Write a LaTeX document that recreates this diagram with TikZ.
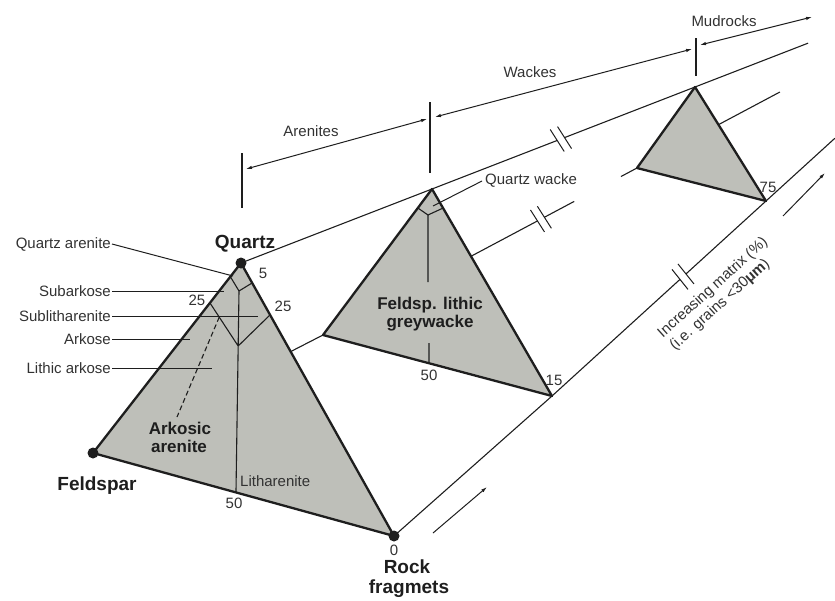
\documentclass[tikz,border=0pt]{standalone}
\usepackage{fontspec}
\setmainfont{Liberation Sans}
\usetikzlibrary{calc,arrows.meta}
\definecolor{trifill}{RGB}{190,191,185}
\definecolor{ink}{RGB}{30,30,30}
\definecolor{txt}{RGB}{50,50,50}
\begin{document}
\begin{tikzpicture}[x=1pt,y=-1pt,
  tri/.style={draw=ink,line width=2.3pt,fill=trifill,line join=round},
  inner/.style={draw=ink,line width=1.1pt},
  lead/.style={draw=ink,line width=1pt},
  recede/.style={draw=ink,line width=1.1pt},
  brk/.style={draw=ink,line width=1pt},
  tick/.style={draw=ink,line width=1.1pt},
  dim/.style={draw=ink,line width=1pt,{Latex[length=6pt,width=3.5pt]}-{Latex[length=6pt,width=3.5pt]}},
  onearrow/.style={draw=ink,line width=1pt,-{Latex[length=6pt,width=3.5pt]}},
  lbl/.style={font=\fontsize{15}{18}\selectfont,text=txt,inner sep=1pt},
  blbl/.style={font=\bfseries\fontsize{19}{21}\selectfont,text=ink,inner sep=0pt},
  ilbl/.style={font=\bfseries\fontsize{17}{19}\selectfont,text=ink,inner sep=0pt},
  vdot/.style={circle,fill=ink,inner sep=0pt,minimum size=11pt},
]
\useasboundingbox (0,0) rectangle (835,600);

% vertices
\coordinate (Q) at (241,263);
\coordinate (F) at (93,453);
\coordinate (R) at (394,536);
\coordinate (A2) at (432,189);
\coordinate (L2) at (323,335);
\coordinate (R2) at (552,396);
\coordinate (A3) at (695,87);
\coordinate (L3) at (637,168);
\coordinate (R3) at (766,201);

% receding lines with breaks
\coordinate (bA1) at ($(A2)!0.476!(A3)$);
\coordinate (bA2) at ($(A2)!0.504!(A3)$);
\coordinate (eA) at ($(A2)!1.43!(A3)$);
\draw[recede] (Q) -- (A2) -- (bA1) (bA2) -- (A3) -- (eA);
\draw[brk] ($(bA1)+(-7,-11)$) -- ($(bA1)+(7,11)$) ($(bA2)+(-7,-11)$) -- ($(bA2)+(7,11)$);

\coordinate (bB1) at ($(L2)!0.683!(L3)$);
\coordinate (bB2) at ($(L2)!0.705!(L3)$);
\coordinate (eB1) at ($(L2)!0.80!(L3)$);
\coordinate (sB) at ($(L2)!0.949!(L3)$);
\coordinate (eB) at ($(L2)!1.455!(L3)$);
\draw[recede] (F) -- (L2) -- (bB1) (bB2) -- (eB1) (sB) -- (L3) -- (eB);
\draw[brk] ($(bB1)+(-7,-11)$) -- ($(bB1)+(7,11)$) ($(bB2)+(-7,-11)$) -- ($(bB2)+(7,11)$);

\coordinate (bC1) at ($(R2)!0.598!(R3)$);
\coordinate (bC2) at ($(R2)!0.626!(R3)$);
\coordinate (eC) at ($(R2)!1.322!(R3)$);
\draw[recede] (R) -- (R2) -- (bC1) (bC2) -- (R3) -- (eC);
\draw[brk] ($(bC1)+(-8,-10)$) -- ($(bC1)+(8,10)$) ($(bC2)+(-8,-10)$) -- ($(bC2)+(8,10)$);

% triangles
\draw[tri] (Q) -- (F) -- (R) -- cycle;
\draw[tri] (A2) -- (L2) -- (R2) -- cycle;
\draw[tri] (A3) -- (L3) -- (R3) -- cycle;

% inner lines triangle 1
\coordinate (v1l) at ($(Q)!0.072!(F)$);
\coordinate (v1r) at ($(Q)!0.073!(R)$);
\coordinate (v1b) at (239,291);
\coordinate (b1) at ($(F)!0.475!(R)$);
\coordinate (V1l) at ($(Q)!0.21!(F)$);
\coordinate (V1r) at ($(Q)!0.19!(R)$);
\coordinate (V1b) at ($(v1b)!0.273!(b1)$);
\coordinate (ds) at ($(V1l)!0.33!(V1b)$);
\coordinate (de) at (177,417);
\draw[inner] (v1l) -- (v1b) -- (v1r) (v1b) -- (b1) (V1l) -- (V1b) -- (V1r);
\draw[inner,dash pattern=on 5pt off 3pt] (ds) -- (de);

% inner lines triangle 2
\coordinate (v2l) at ($(A2)!0.13!(L2)$);
\coordinate (v2r) at ($(A2)!0.092!(R2)$);
\coordinate (v2b) at (428,215);
\coordinate (v2e) at (428,282);
\coordinate (b2) at ($(L2)!0.463!(R2)$);
\coordinate (b2t) at (429,343);
\draw[inner] (v2l) -- (v2b) -- (v2r) (v2b) -- (v2e) (b2t) -- (b2);

% vertex dots
\node[vdot] (dQ) at (Q) {};
\node[vdot] (dF) at (F) {};
\node[vdot] (dR) at (R) {};

% left labels with leaders
\node[lbl,anchor=east] (qa) at (112,244) {Quartz arenite};
\node[lbl,anchor=east] (sa) at (112,291) {Subarkose};
\node[lbl,anchor=east] (sl) at (112,316) {Sublitharenite};
\node[lbl,anchor=east] (ak) at (112,339) {Arkose};
\node[lbl,anchor=east] (la) at (112,368) {Lithic arkose};
\coordinate (qat) at (233,276);
\coordinate (sat) at (224,291);
\coordinate (slt) at (258,316);
\coordinate (akt) at (190,339);
\coordinate (lat) at (212,368);
\draw[lead] (qa.east) -- (qat);
\draw[lead] (sa.east) -- (sat);
\draw[lead] (sl.east) -- (slt);
\draw[lead] (ak.east) -- (akt);
\draw[lead] (la.east) -- (lat);

% numbers
\node[lbl] (n5) at (263,273) {5};
\node[lbl] (n25l) at (197,300) {25};
\node[lbl] (n25r) at (283,306) {25};
\node[lbl] (n50a) at (234,503) {50};
\node[lbl] (n0) at (394,550) {0};
\node[lbl] (n50b) at (429,375) {50};
\node[lbl] (n15) at (554,380) {15};
\node[lbl] (n75) at (768,187) {75};

% corner labels
\node[blbl,anchor=base] (lq) at (245,248) {Quartz};
\node[blbl,anchor=base] (lf) at (97,490) {Feldspar};
\node[blbl,anchor=base] (lr1) at (407,573) {Rock};
\node[blbl,anchor=base] (lr2) at (409,593) {fragmets};

% field labels
\node[ilbl,anchor=base] (ak1) at (180,434) {Arkosic};
\node[ilbl,anchor=base] (ak2) at (179,452) {arenite};
\node[ilbl,anchor=base] (fg1) at (430,309) {Feldsp. lithic};
\node[ilbl,anchor=base] (fg2) at (430,327.5) {greywacke};
\node[lbl,anchor=base west,inner sep=0pt] (lit) at (240,486) {Litharenite};
\node[lbl,anchor=base west,inner sep=0pt] (qw) at (485,184) {Quartz wacke};
\coordinate (qws) at (433,206);
\coordinate (qwe) at (482,181);
\draw[lead] (qws) -- (qwe);

% dimension ticks and arrows
\coordinate (t1a) at (242,153); \coordinate (t1b) at (242,208);
\coordinate (t2a) at (430,102); \coordinate (t2b) at (430,173);
\coordinate (t3a) at (696,38);  \coordinate (t3b) at (696,76);
\draw[tick] (t1a) -- (t1b) (t2a) -- (t2b) (t3a) -- (t3b);
\coordinate (ar1) at (246,169); \coordinate (ar2) at (427,119);
\coordinate (wk1) at (435,117); \coordinate (wk2) at (692,49);
\coordinate (md1) at (700,45);  \coordinate (md2) at (812,17);
\draw[dim] (ar1) -- (ar2);
\draw[dim] (wk1) -- (wk2);
\draw[dim] (md1) -- (md2);
\node[lbl,anchor=base] (tar) at (311,136.7) {Arenites};
\node[lbl,anchor=base] (twk) at (530,77.3) {Wackes};
\node[lbl,anchor=base] (tmd) at (724,26) {Mudrocks};

% direction arrows
\coordinate (da1) at (433,533); \coordinate (da2) at (487,487);
\coordinate (db1) at (783,216); \coordinate (db2) at (825,173);
\draw[onearrow] (da1) -- (da2);
\draw[onearrow] (db1) -- (db2);

\node[lbl,rotate=42,inner sep=0pt] (im1) at (713,288) {Increasing matrix (\%)};
\node[lbl,rotate=42,inner sep=0pt] (im2) at (720,305) {(i.e. grains <30{\bfseries μm})};
\end{tikzpicture}
\end{document}
